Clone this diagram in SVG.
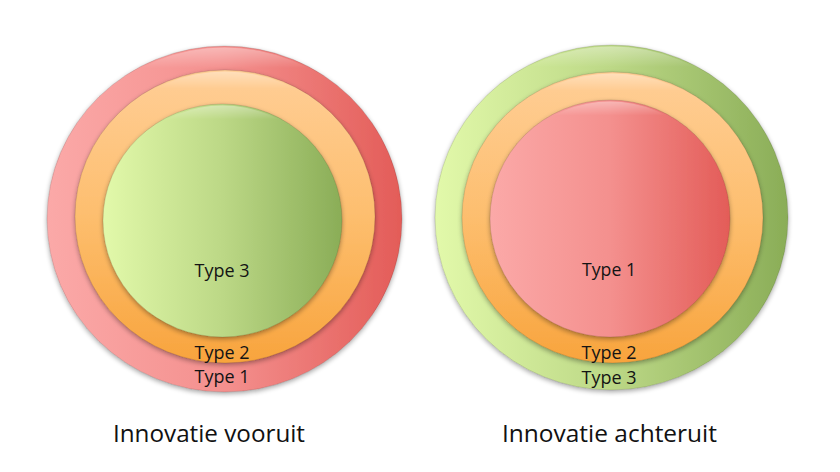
<svg xmlns="http://www.w3.org/2000/svg" width="840" height="472" viewBox="0 0 840 472">
  <defs>
    <linearGradient id="gRedH" x1="0" y1="0" x2="1" y2="0">
      <stop offset="0" stop-color="#FBA9A8"/>
      <stop offset="0.5" stop-color="#F4908E"/>
      <stop offset="1" stop-color="#E35C58"/>
    </linearGradient>
    <linearGradient id="gGreenH" x1="0" y1="0" x2="1" y2="0">
      <stop offset="0" stop-color="#E2F9AA"/>
      <stop offset="0.5" stop-color="#BCD886"/>
      <stop offset="1" stop-color="#8AAD57"/>
    </linearGradient>
    <linearGradient id="gOrangeV" x1="0" y1="0" x2="0" y2="1">
      <stop offset="0" stop-color="#FFCE96"/>
      <stop offset="0.5" stop-color="#FDBE6E"/>
      <stop offset="1" stop-color="#F8A43D"/>
    </linearGradient>
    <linearGradient id="gShine" x1="0" y1="0" x2="0" y2="1">
      <stop offset="0" stop-color="#FFFFFF" stop-opacity="0.35"/>
      <stop offset="0.06" stop-color="#FFFFFF" stop-opacity="0"/>
      <stop offset="1" stop-color="#FFFFFF" stop-opacity="0"/>
    </linearGradient>
    <filter id="shadow" x="-10%" y="-10%" width="120%" height="125%">
      <feGaussianBlur in="SourceAlpha" stdDeviation="2.5"/>
      <feOffset dx="0" dy="2" result="b"/>
      <feComponentTransfer><feFuncA type="linear" slope="0.35"/></feComponentTransfer>
      <feMerge><feMergeNode/><feMergeNode in="SourceGraphic"/></feMerge>
    </filter>
  </defs>
  <style>
    .ring { stroke: #000; stroke-opacity: 0.12; stroke-width: 1; filter: url(#shadow); }
    .shine { fill: url(#gShine); stroke: none; }
    .lbl { font-family: "Open Sans", "Noto Sans", "Liberation Sans", sans-serif; font-size: 19px; fill: #141414; text-anchor: middle; }
    .title { font-family: "Open Sans", "Noto Sans", "Liberation Sans", sans-serif; font-size: 24px; fill: #111; }
  </style>
  <rect width="840" height="472" fill="#FFFFFF"/>

  <!-- Left: Innovatie vooruit -->
  <g id="left-type1">
    <ellipse class="ring" cx="224.5" cy="219" rx="177.5" ry="173" fill="url(#gRedH)"/>
    <ellipse class="shine" cx="224.5" cy="219" rx="176" ry="171.5"/>
    <text class="lbl" x="222" y="383" textLength="55" lengthAdjust="spacingAndGlyphs">Type 1</text>
  </g>
  <g id="left-type2">
    <ellipse class="ring" cx="225" cy="216.5" rx="150" ry="146.5" fill="url(#gOrangeV)"/>
    <ellipse class="shine" cx="225" cy="216.5" rx="148.5" ry="145"/>
    <text class="lbl" x="222" y="359" textLength="55" lengthAdjust="spacingAndGlyphs">Type 2</text>
  </g>
  <g id="left-type3">
    <ellipse class="ring" cx="222.5" cy="220.5" rx="119.5" ry="116.5" fill="url(#gGreenH)"/>
    <ellipse class="shine" cx="222.5" cy="220.5" rx="118" ry="115"/>
    <text class="lbl" x="222" y="277" textLength="55" lengthAdjust="spacingAndGlyphs">Type 3</text>
  </g>
  <g id="left-title">
    <text class="title" x="113" y="442" textLength="192" lengthAdjust="spacingAndGlyphs">Innovatie vooruit</text>
  </g>

  <!-- Right: Innovatie achteruit -->
  <g id="right-type3">
    <ellipse class="ring" cx="611.5" cy="217.5" rx="176.5" ry="172.5" fill="url(#gGreenH)"/>
    <ellipse class="shine" cx="611.5" cy="217.5" rx="175" ry="171"/>
    <text class="lbl" x="609" y="384" textLength="55" lengthAdjust="spacingAndGlyphs">Type 3</text>
  </g>
  <g id="right-type2">
    <ellipse class="ring" cx="612.5" cy="217.5" rx="150.5" ry="145.5" fill="url(#gOrangeV)"/>
    <ellipse class="shine" cx="612.5" cy="217.5" rx="149" ry="144"/>
    <text class="lbl" x="609" y="359" textLength="55" lengthAdjust="spacingAndGlyphs">Type 2</text>
  </g>
  <g id="right-type1">
    <ellipse class="ring" cx="610" cy="218.5" rx="120" ry="118.5" fill="url(#gRedH)"/>
    <ellipse class="shine" cx="610" cy="218.5" rx="118.5" ry="117"/>
    <text class="lbl" x="609" y="276" textLength="54" lengthAdjust="spacingAndGlyphs">Type 1</text>
  </g>
  <g id="right-title">
    <text class="title" x="502" y="442" textLength="215" lengthAdjust="spacingAndGlyphs">Innovatie achteruit</text>
  </g>
</svg>
